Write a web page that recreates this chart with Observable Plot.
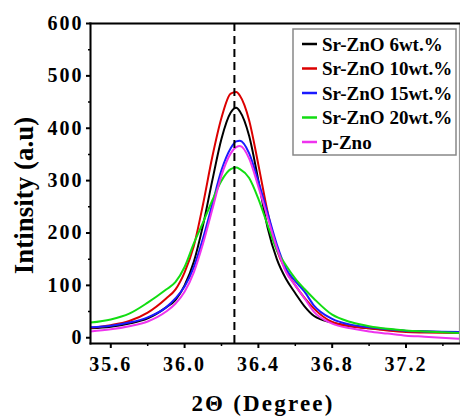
<!DOCTYPE html>
<html><head><meta charset="utf-8">
<script src="https://cdn.jsdelivr.net/npm/d3@7"></script>
<script src="https://cdn.jsdelivr.net/npm/@observablehq/plot@0.6"></script>
<style>body{margin:0;background:#fff} #chart{width:460px;height:416px}</style>
</head><body><div id="chart"></div>
<script>
// 2θ positions (degrees)
const twoTheta = [35.49, 35.6, 35.7, 35.8, 35.9, 35.95, 36.0, 36.05, 36.1, 36.15, 36.2, 36.25, 36.28, 36.3, 36.35, 36.4, 36.45, 36.5, 36.55, 36.6, 36.65, 36.7, 36.8, 36.9, 37.0, 37.1, 37.2, 37.3, 37.49];
const seriesNames = ["Sr-ZnO 6wt.%", "Sr-ZnO 10wt.%", "Sr-ZnO 15wt.%", "Sr-ZnO 20wt.%", "p-Zno"];
const seriesColors = ["#000000", "#dc0000", "#1a1aff", "#12dd12", "#ee33ee"];
const sr6  = [18, 21, 27, 37, 58, 72, 100, 145, 215, 300, 380, 430, 439, 432, 385, 300, 210, 150, 112, 85, 60, 42, 29, 22, 18, 15, 13, 12, 10];
const sr10 = [19, 24, 32, 48, 75, 92, 125, 175, 255, 345, 420, 466, 469, 462, 415, 330, 240, 168, 128, 100, 76, 56, 30, 22, 18, 14, 11, 10, 9];
const sr15 = [20, 23, 29, 39, 58, 75, 98, 135, 190, 255, 320, 362, 375, 376, 352, 298, 238, 178, 132, 108, 88, 62, 36, 25, 20, 16, 13, 12, 11];
const sr20 = [29, 35, 46, 67, 92, 106, 135, 180, 220, 262, 300, 322, 325, 322, 305, 265, 215, 167, 138, 113, 93, 75, 44, 30, 22, 17, 14, 12, 9];
const pZno = [12, 16, 22, 31, 50, 65, 88, 125, 180, 245, 310, 352, 364, 366, 342, 288, 230, 172, 125, 100, 75, 50, 27, 18, 12, 8, 4, 2, -2];
const peakPosition = 36.27;
const xTicks = [35.6, 36.0, 36.4, 36.8, 37.2];
const xMinorTicks = [35.8, 36.2, 36.6, 37.0, 37.4];
const yTicks = [0, 100, 200, 300, 400, 500, 600];
const yMinorTicks = [50, 150, 250, 350, 450, 550];
const xTitle = "2Θ (Degree)";
const yTitle = "Intinsity (a.u)";

const seriesValues = [sr6, sr10, sr15, sr20, pZno];
const rows = seriesNames.flatMap((name, i) => twoTheta.map((x, j) => ({x, y: seriesValues[i][j], series: name})));

const font = "'Liberation Serif', 'Times New Roman', serif";
const chart = Plot.plot({
  width: 460, height: 416,
  marginLeft: 90, marginTop: 23, marginRight: 1, marginBottom: 73,
  style: {fontFamily: font, fontWeight: "bold", background: "#fff", color: "#000"},
  x: {domain: [35.49, 37.49]},
  y: {domain: [-11, 600]},
  color: {domain: seriesNames, range: seriesColors},
  marks: [
    Plot.frame({stroke: "#9a9a9a", strokeWidth: 1.2}),
    Plot.line(rows, {x: "x", y: "y", z: "series", stroke: "series", strokeWidth: 2, curve: "monotone-x", clip: true}),
    Plot.ruleX([peakPosition], {stroke: "black", strokeWidth: 2, strokeDasharray: "8,5"}),
    Plot.axisX({ticks: xTicks, tickSize: 5, tickPadding: 8, tickFormat: d => d.toFixed(1), fontSize: 20, label: null, strokeWidth: 2}),
    Plot.axisX({ticks: xMinorTicks, tickSize: 3, text: null, label: null, strokeWidth: 1.5}),
    Plot.axisY({ticks: yTicks, tickSize: 4, tickPadding: 3, fontSize: 20, label: null, strokeWidth: 2}),
    Plot.axisY({ticks: yMinorTicks, tickSize: 2, text: null, label: null, strokeWidth: 1.5}),
    Plot.text([xTitle], {frameAnchor: "bottom", textAnchor: "middle", dy: 67, dx: -12, fontSize: 23, fontWeight: "bold"}),
    Plot.text([yTitle], {frameAnchor: "left", textAnchor: "middle", rotate: -90, dx: -66, dy: 12, fontSize: 27, fontWeight: "bold"}),
    Plot.frame({anchor: "top", stroke: "black", strokeWidth: 2}),
    Plot.frame({anchor: "left", stroke: "black", strokeWidth: 2}),
    Plot.frame({anchor: "bottom", stroke: "black", strokeWidth: 2})
  ]
});
document.getElementById("chart").append(chart);

const svg = d3.select(chart);
svg.selectAll("text").style("font-family", font).style("font-weight", "bold");
svg.selectAll('[aria-label="x-axis tick label"] text, [aria-label="y-axis tick label"] text').attr("letter-spacing", "2px");
svg.selectAll("text").filter(function() { return this.textContent === xTitle; }).attr("letter-spacing", "2.2px");

// legend
const lg = svg.append("g").style("font-family", font).attr("font-weight", "bold").attr("text-anchor", "start");
lg.append("rect").attr("x", 293).attr("y", 29).attr("width", 163).attr("height", 126)
  .attr("fill", "#fff").attr("stroke", "#888").attr("stroke-width", 1.5);
seriesNames.forEach((name, i) => {
  const cy = 44 + i * 24.5;
  lg.append("line").attr("x1", 302).attr("x2", 317).attr("y1", cy).attr("y2", cy)
    .attr("stroke", seriesColors[i]).attr("stroke-width", 2.5);
  lg.append("text").attr("x", 322).attr("y", cy).attr("dy", "0.35em").attr("text-anchor", "start")
    .style("font-family", font).style("font-weight", "bold")
    .attr("font-size", 19).attr("fill", "#000").text(name);
});
</script>
</body></html>
